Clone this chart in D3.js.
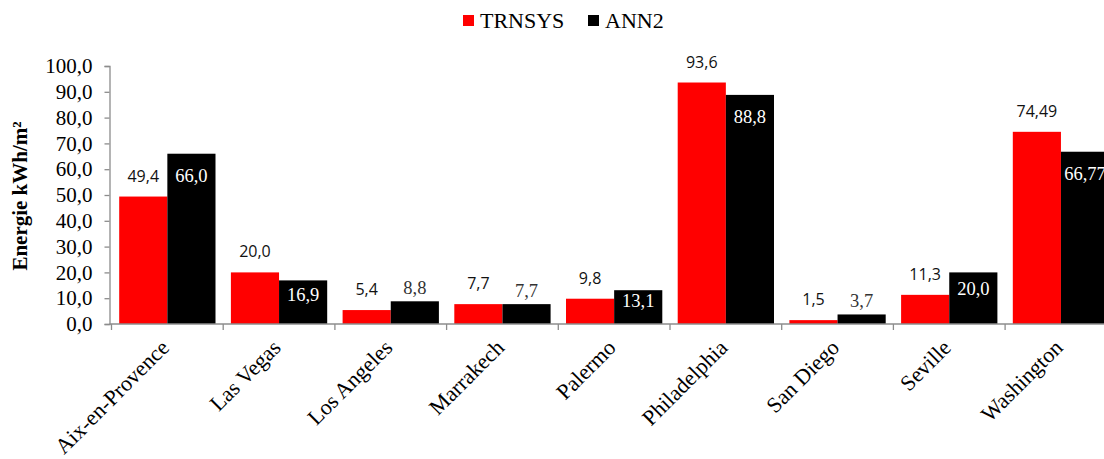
<!DOCTYPE html>
<html>
<head>
<meta charset="utf-8">
<script src="https://cdn.jsdelivr.net/npm/d3@7"></script>
<style>
  html, body { margin: 0; padding: 0; background: #fff; }
  svg { display: block; overflow: hidden; }
  text { font-family: 'Liberation Serif', 'DejaVu Serif', serif; }
</style>
</head>
<body>
<svg id="chart" width="1104" height="459"></svg>
<script>
const cities = ['Aix-en-Provence', 'Las Vegas', 'Los Angeles', 'Marrakech', 'Palermo', 'Philadelphia', 'San Diego', 'Seville', 'Washington']
const trnsys = [49.4, 20.0, 5.4, 7.7, 9.8, 93.6, 1.5, 11.3, 74.49]
const ann2 = [66.0, 16.9, 8.8, 7.7, 13.1, 88.8, 3.7, 20.0, 66.77]
const seriesNames = ['TRNSYS', 'ANN2']
const seriesColors = ['#ff0000', '#000000']
const yTicks = [0, 10, 20, 30, 40, 50, 60, 70, 80, 90, 100]

const sans = "'Open Sans', 'Liberation Sans', sans-serif"
const axisColor = '#8c8c8c'

const margin = { left: 111.5, top: 66, bottom: 324 }
const step = 111.7

const locale = d3.formatLocale({ decimal: ',', thousands: ' ', grouping: [3], currency: ['', ''] })
const fmtTick = locale.format('.1f')
function fmtLabel(v) {
  const one = Math.abs(Math.round(v * 10) - v * 10) < 1e-9
  return v.toFixed(one ? 1 : 2).replace('.', ',')
}

const rows = cities.map((c, i) => ({ city: c, values: [trnsys[i], ann2[i]] }))

const svg = d3.select('#chart')

const x0 = d3.scaleBand()
  .domain(cities)
  .range([margin.left, margin.left + step * cities.length])
  .padding(0)

const x1 = d3.scaleBand()
  .domain(seriesNames)
  .range([0, x0.bandwidth()])
  .paddingInner(0)
  .paddingOuter(0.16)

const y = d3.scaleLinear()
  .domain([0, 100])
  .range([margin.bottom, margin.top])

// bars
const groups = svg.append('g')
  .selectAll('g.city')
  .data(rows)
  .enter()
  .append('g')
  .attr('class', 'city')
  .attr('transform', (d) => `translate(${x0(d.city)},0)`)

groups.selectAll('rect')
  .data((d) => d.values.map((v, i) => ({ name: seriesNames[i], value: v, color: seriesColors[i] })))
  .enter()
  .append('rect')
  .attr('x', (d) => x1(d.name))
  .attr('y', (d) => y(d.value))
  .attr('width', x1.bandwidth())
  .attr('height', (d) => y(0) - y(d.value))
  .attr('fill', (d) => d.color)

// TRNSYS labels above the red bars
groups.append('text')
  .attr('x', x1('TRNSYS') + x1.bandwidth() / 2)
  .attr('y', (d) => y(d.values[0]) - 15)
  .attr('text-anchor', 'middle')
  .style('font-family', sans)
  .style('font-size', '16px')
  .style('fill', '#111')
  .text((d) => fmtLabel(d.values[0]))

// ANN2 labels: inside top when the bar is tall enough, else above it
groups.append('text')
  .attr('x', x1('ANN2') + x1.bandwidth() / 2)
  .attr('y', (d) => {
    const v = d.values[1]
    const h = y(0) - y(v)
    if (v < 10) return y(v) - 7
    return y(v) + Math.min(22, h * 0.33) + 6
  })
  .attr('text-anchor', 'middle')
  .style('font-size', '18.5px')
  .style('fill', (d) => (d.values[1] < 10 ? '#333' : '#fff'))
  .text((d) => fmtLabel(d.values[1]))

// y axis
const yAxis = svg.append('g')
  .attr('transform', `translate(${margin.left - 2},0)`)
  .call(d3.axisLeft(y).tickValues(yTicks).tickFormat(fmtTick).tickSize(5).tickPadding(12))
yAxis.attr('font-family', null).attr('font-size', null)
yAxis.selectAll('path, line').attr('stroke', axisColor).attr('stroke-width', 1.3)
yAxis.selectAll('text')
  .style('font-size', '21px')
  .style('fill', '#000')

// x axis with ticks at category boundaries
const xAxis = svg.append('g')
  .attr('transform', `translate(0,${margin.bottom})`)
xAxis.append('line')
  .attr('x1', margin.left - 2)
  .attr('x2', x0.range()[1])
  .attr('stroke', axisColor)
  .attr('stroke-width', 1.3)
xAxis.selectAll('line.tick')
  .data(cities.concat(['end']))
  .enter()
  .append('line')
  .attr('class', 'tick')
  .attr('x1', (d, i) => x0.range()[0] + i * x0.step())
  .attr('x2', (d, i) => x0.range()[0] + i * x0.step())
  .attr('y1', 0)
  .attr('y2', 6)
  .attr('stroke', axisColor)
  .attr('stroke-width', 1.3)

xAxis.selectAll('text.cat')
  .data(cities)
  .enter()
  .append('text')
  .attr('class', 'cat')
  .attr('transform', (d) => `translate(${x0(d) + x0.bandwidth() / 2 + 3},${25}) rotate(-45)`)
  .attr('text-anchor', 'end')
  .style('font-size', '22px')
  .style('fill', '#000')
  .text((d) => d)

// y title
svg.append('text')
  .attr('transform', `translate(27,${(margin.top + margin.bottom) / 2 + 1}) rotate(-90)`)
  .attr('text-anchor', 'middle')
  .style('font-size', '21px')
  .style('font-weight', 'bold')
  .style('fill', '#000')
  .text('Energie kWh/m²')

// legend
const legendX = [463, 588]
const legend = svg.append('g')
  .selectAll('g.leg')
  .data(seriesNames)
  .enter()
  .append('g')
  .attr('class', 'leg')
  .attr('transform', (d, i) => `translate(${legendX[i]},15)`)
legend.append('rect')
  .attr('width', 11)
  .attr('height', 11)
  .attr('fill', (d, i) => seriesColors[i])
legend.append('text')
  .attr('x', 17)
  .attr('y', 12.5)
  .style('font-size', '22px')
  .style('fill', '#000')
  .text((d) => d)
</script>
</body>
</html>
